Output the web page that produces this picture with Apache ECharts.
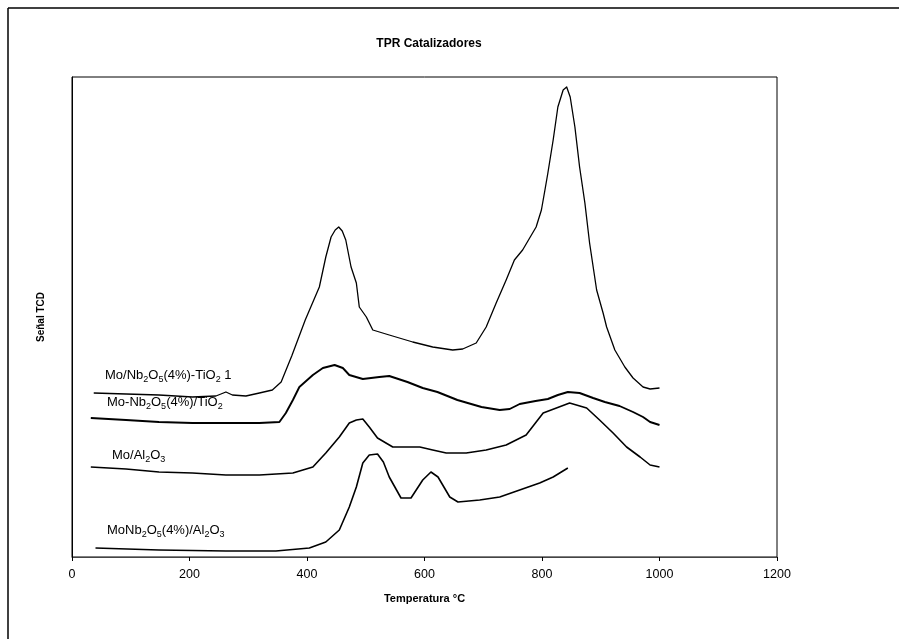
<!DOCTYPE html>
<html>
<head>
<meta charset="utf-8">
<script src="https://cdn.jsdelivr.net/npm/echarts@6/dist/echarts.min.js"></script>
<style>
  html, body { margin: 0; padding: 0; background: #fff; }
  #chart { width: 899px; height: 639px; }
</style>
</head>
<body>
<div id="chart"></div>
<script>
// TPR profiles (TCD signal, arbitrary units) vs temperature
const xTicks = [0, 200, 400, 600, 800, 1000, 1200];

const names = [
  'Mo/Nb2O5(4%)-TiO2 1',
  'Mo-Nb2O5(4%)/TiO2',
  'Mo/Al2O3',
  'MoNb2O5(4%)/Al2O3'
];

const temp1 = [37, 92, 148, 205, 245, 262, 273, 296, 319, 341, 356, 374, 397, 421, 432, 441, 448, 454, 460, 466, 475, 484, 489, 501, 512, 540, 580, 614, 648, 665, 688, 705, 722, 739, 753, 767, 782, 790, 799, 805, 810, 819, 827, 836, 842, 848, 856, 864, 873, 881, 893, 904, 910, 924, 941, 955, 972, 984, 1000];
const signal1 = [164, 163, 162, 160, 161, 165, 162, 161, 164, 167, 175, 201, 237, 270, 300, 320, 327, 330, 326, 317, 290, 274, 250, 240, 227, 222, 215, 210, 207, 208, 214, 230, 254, 277, 297, 307, 322, 330, 347, 367, 384, 417, 450, 467, 470, 460, 430, 390, 354, 314, 267, 244, 230, 207, 190, 179, 170, 168, 169];

const temp2 = [32, 92, 148, 205, 262, 319, 353, 364, 376, 387, 410, 427, 447, 461, 472, 495, 523, 540, 571, 597, 622, 656, 697, 728, 745, 762, 789, 810, 827, 844, 864, 887, 907, 932, 955, 972, 984, 1000];
const signal2 = [139, 137, 135, 134, 134, 134, 135, 144, 157, 170, 182, 189, 192, 189, 182, 178, 180, 181, 175, 169, 165, 157, 150, 147, 148, 153, 156, 158, 162, 165, 164, 159, 155, 151, 145, 140, 135, 132];

const temp3 = [32, 92, 148, 205, 262, 319, 376, 410, 432, 455, 472, 484, 495, 506, 520, 546, 592, 614, 637, 671, 705, 739, 773, 802, 847, 876, 898, 921, 944, 967, 984, 1000];
const signal3 = [90, 88, 85, 84, 82, 82, 84, 90, 104, 120, 134, 137, 138, 130, 119, 110, 110, 107, 104, 104, 107, 112, 122, 144, 154, 149, 137, 124, 110, 100, 92, 90];

const temp4 = [40, 148, 262, 347, 404, 432, 455, 472, 484, 495, 506, 520, 530, 540, 560, 577, 597, 611, 623, 643, 657, 694, 728, 762, 796, 819, 844];
const signal4 = [9, 7, 6, 6, 9, 15, 27, 50, 70, 94, 102, 103, 95, 80, 59, 59, 77, 85, 80, 60, 55, 57, 60, 67, 74, 80, 89];

const pairs = (xs, ys) => xs.map((x, i) => [x, ys[i]]);

const FONT = 'Liberation Sans, Arial, sans-serif';
const sub = { fontSize: 9, fontFamily: FONT, color: '#000', verticalAlign: 'top', padding: [6, 0, 0, 0] };
const norm = { fontSize: 13, fontFamily: FONT, color: '#000', verticalAlign: 'top' };

function curveLabel(text, left, top) {
  return {
    type: 'text', left: left, top: top,
    style: { text: text, rich: { n: norm, s: sub }, fill: '#000' }
  };
}

const lineSeries = (name, data, width) => ({
  name: name, type: 'line', data: data, showSymbol: false,
  lineStyle: { color: '#000', width: width, join: 'round' }
});

const chart = echarts.init(document.getElementById('chart'));
chart.setOption({
  backgroundColor: '#fff',
  animation: false,
  title: {
    text: 'TPR Catalizadores',
    left: 424, top: 33, textAlign: 'center',
    textStyle: { fontFamily: FONT, fontSize: 12, fontWeight: 'bold', color: '#000' }
  },
  grid: { left: 72, right: 122, top: 77, bottom: 82, show: true, borderColor: '#000', borderWidth: 1 },
  xAxis: {
    type: 'value', min: 0, max: 1200, interval: 200,
    name: 'Temperatura °C', nameLocation: 'middle', nameGap: 36,
    nameTextStyle: { fontFamily: FONT, fontSize: 11, fontWeight: 'bold', color: '#000' },
    axisLine: { lineStyle: { color: '#444', width: 1 } },
    axisTick: { length: 4, lineStyle: { color: '#000' } },
    axisLabel: { fontFamily: FONT, fontSize: 12.5, color: '#000', margin: 11,
      formatter: v => xTicks.includes(v) ? String(v) : '' },
    splitLine: { show: false }
  },
  yAxis: {
    type: 'value', min: 0, max: 480,
    name: 'Señal TCD', nameLocation: 'middle', nameGap: 26, nameRotate: 90,
    nameTextStyle: { fontFamily: FONT, fontSize: 10, fontWeight: 'bold', color: '#000' },
    axisLine: { show: true, lineStyle: { color: '#000' } },
    axisTick: { show: false }, axisLabel: { show: false }, splitLine: { show: false }
  },
  series: [
    lineSeries(names[0], pairs(temp1, signal1), 1.3),
    lineSeries(names[1], pairs(temp2, signal2), 1.9),
    lineSeries(names[2], pairs(temp3, signal3), 1.6),
    lineSeries(names[3], pairs(temp4, signal4), 1.6)
  ],
  graphic: [
    { type: 'line', shape: { x1: 8, y1: 8, x2: 899, y2: 8 }, style: { stroke: '#000', lineWidth: 1.5 } },
    { type: 'line', shape: { x1: 8, y1: 8, x2: 8, y2: 639 }, style: { stroke: '#000', lineWidth: 1.5 } },
    curveLabel('{n|Mo/Nb}{s|2}{n|O}{s|5}{n|(4%)-TiO}{s|2}{n| 1}', 105, 369),
    curveLabel('{n|Mo-Nb}{s|2}{n|O}{s|5}{n|(4%)/TiO}{s|2}', 107, 396),
    curveLabel('{n|Mo/Al}{s|2}{n|O}{s|3}', 112, 449),
    curveLabel('{n|MoNb}{s|2}{n|O}{s|5}{n|(4%)/Al}{s|2}{n|O}{s|3}', 107, 524)
  ]
});
</script>
</body>
</html>
